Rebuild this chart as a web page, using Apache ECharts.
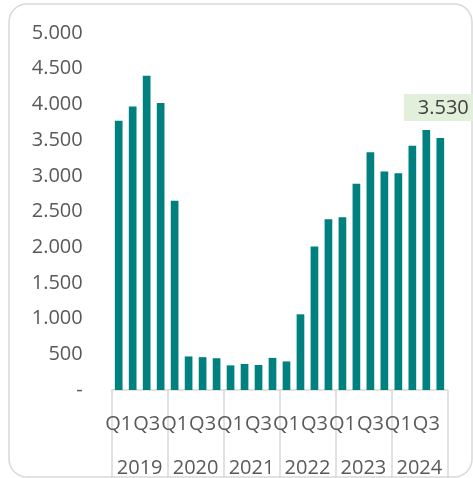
<!DOCTYPE html>
<html>
<head>
<meta charset="utf-8">
<script src="https://cdn.jsdelivr.net/npm/echarts@6/dist/echarts.min.js"></script>
<style>html,body{margin:0;padding:0;background:#fff}#c{width:473px;height:478px}</style>
</head>
<body>
<div id="c"></div>
<script>
var quarters = ["Q1","Q2","Q3","Q4","Q1","Q2","Q3","Q4","Q1","Q2","Q3","Q4","Q1","Q2","Q3","Q4","Q1","Q2","Q3","Q4","Q1","Q2","Q3","Q4"];
var years = ["2019","2020","2021","2022","2023","2024"];
var values = [3770, 3970, 4400, 4020, 2650, 470, 460, 445, 345, 365, 350, 450, 400, 1060, 2010, 2390, 2420, 2890, 3330, 3060, 3035, 3420, 3640, 3530];
var labelIndex = values.length - 1;

function fmt(v){
  if (v === 0) return '-';
  return String(v).replace(/\B(?=(\d{3})+(?!\d))/g, '.');
}

var chart = echarts.init(document.getElementById('c'));
var txt = '#595959';
var font = 'Open Sans';
var fs = 20;
chart.setOption({
  animation: false,
  graphic: [{
    type: 'rect',
    shape: {x: 9, y: 4, width: 463, height: 473, r: 18},
    style: {fill: 'none', stroke: '#d9d9d9', lineWidth: 1.5},
    z: -1
  }],
  grid: {left: 111.7, right: 25.7, top: 33, bottom: 88, containLabel: false},
  xAxis: [{
    type: 'category',
    data: quarters,
    position: 'bottom',
    offset: 0,
    axisLine: {show: true, lineStyle: {color: '#d9d9d9', width: 1.5}},
    axisTick: {show: false},
    axisLabel: {interval: 1, margin: 24, fontSize: fs, fontFamily: font, color: txt, hideOverlap: false}
  }, {
    type: 'category',
    data: years,
    position: 'bottom',
    offset: 0,
    axisLine: {show: false},
    axisTick: {show: true, interval: 0, length: 88, lineStyle: {color: '#d9d9d9', width: 1.5}},
    axisLabel: {interval: 0, margin: 68, fontSize: fs, fontFamily: font, color: txt, hideOverlap: false}
  }],
  yAxis: {
    type: 'value',
    min: 0, max: 5000, interval: 500,
    axisLine: {show: false},
    axisTick: {show: false},
    splitLine: {show: false},
    axisLabel: {margin: 29, fontSize: fs, fontFamily: font, color: txt, formatter: fmt}
  },
  series: [{
    type: 'bar',
    xAxisIndex: 0,
    barWidth: '55%',
    itemStyle: {color: '#00807f'},
    data: values.map(function(v, i){
      if (i !== labelIndex) return v;
      return {
        value: v,
        label: {
          show: true, position: 'top', distance: 17, offset: [3, 0],
          formatter: function(p){ return fmt(p.value); },
          backgroundColor: '#e2efda', padding: [4, 14, 3, 14],
          fontSize: fs, fontFamily: font, color: '#404040'
        }
      };
    })
  }]
});
</script>
</body>
</html>
